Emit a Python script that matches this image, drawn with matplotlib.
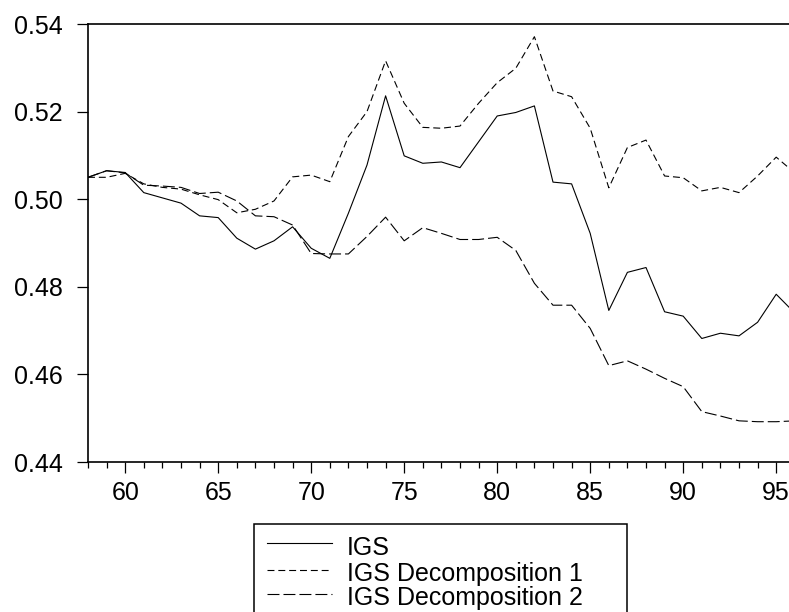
import matplotlib
matplotlib.use("Agg")
import matplotlib.pyplot as plt
from matplotlib.lines import Line2D
from matplotlib.patches import Rectangle
from matplotlib.ticker import MultipleLocator, FixedLocator

plt.rcParams['font.family'] = ['Liberation Sans', 'DejaVu Sans']
plt.rcParams['lines.scale_dashes'] = False

years = list(range(58, 97))
igs = [0.5050, 0.5065, 0.5061, 0.5015, 0.5003, 0.4991, 0.4962, 0.4958, 0.4911, 0.4886,
       0.4905, 0.4937, 0.4888, 0.4865, 0.4968, 0.5078, 0.5236, 0.5099, 0.5082, 0.5085,
       0.5072, 0.5131, 0.5190, 0.5198, 0.5213, 0.5039, 0.5035, 0.4922, 0.4746, 0.4833,
       0.4844, 0.4743, 0.4733, 0.4682, 0.4694, 0.4688, 0.4719, 0.4783, 0.4740]
dec1 = [0.5050, 0.5050, 0.5059, 0.5035, 0.5027, 0.5023, 0.5010, 0.4999, 0.4969, 0.4977,
        0.4996, 0.5051, 0.5055, 0.5040, 0.5143, 0.5200, 0.5316, 0.5219, 0.5164, 0.5162,
        0.5167, 0.5219, 0.5266, 0.5299, 0.5371, 0.5247, 0.5234, 0.5162, 0.5026, 0.5118,
        0.5135, 0.5053, 0.5049, 0.5019, 0.5027, 0.5015, 0.5053, 0.5096, 0.5060]
dec2 = [0.5050, 0.5065, 0.5060, 0.5032, 0.5030, 0.5027, 0.5013, 0.5016, 0.4996, 0.4962,
        0.4960, 0.4941, 0.4876, 0.4875, 0.4875, 0.4915, 0.4959, 0.4905, 0.4935, 0.4922,
        0.4908, 0.4908, 0.4913, 0.4883, 0.4808, 0.4758, 0.4758, 0.4705, 0.4620, 0.4631,
        0.4612, 0.4591, 0.4572, 0.4515, 0.4505, 0.4494, 0.4492, 0.4492, 0.4494]
labels = ["IGS", "IGS Decomposition 1", "IGS Decomposition 2"]
yticks = [0.44, 0.46, 0.48, 0.50, 0.52, 0.54]
ytick_labels = ["0.44", "0.46", "0.48", "0.50", "0.52", "0.54"]
xticks = [60, 65, 70, 75, 80, 85, 90, 95]

W, H = 789, 612
fig = plt.figure(figsize=(W / 100, H / 100), dpi=100)
ax_left, ax_right, ax_top, ax_bottom = 88, 794.8, 24, 462
ax = fig.add_axes([ax_left / W, 1 - ax_bottom / H, (ax_right - ax_left) / W, (ax_bottom - ax_top) / H])

styles = ['-', (0, (5.0, 2.8)), (0, (8.6, 2.9))]
for series, lab, st in zip([igs, dec1, dec2], labels, styles):
    ax.plot(years, series, color='black', linewidth=0.8, label=lab, linestyle=st)

ax.set_xlim(58, 96)
ax.set_ylim(0.44, 0.54)
ax.xaxis.set_major_locator(FixedLocator(xticks))
ax.xaxis.set_minor_locator(MultipleLocator(1))
ax.set_xticklabels([str(x) for x in xticks])
ax.yaxis.set_major_locator(FixedLocator(yticks))
ax.set_yticklabels(ytick_labels)
ax.tick_params(axis='both', which='major', direction='out', labelsize=18, width=0.9, color='black')
ax.tick_params(axis='x', which='major', length=8, pad=6)
ax.tick_params(axis='x', which='minor', length=4.5, width=0.9)
ax.tick_params(axis='y', which='major', length=8, pad=10)
for side in ['left', 'bottom', 'top', 'right']:
    ax.spines[side].set_linewidth(1.2)

# legend box (manual, matches reference layout)
fig.add_artist(Rectangle((254 / W, 1 - 640 / H), (627 - 254) / W, (640 - 524) / H,
                         transform=fig.transFigure, fill=False, edgecolor='black', linewidth=1.1))
line_ys = [542.5, 569.5, 593.5]
text_ys = [555, 581, 605]
for st, lab, ly, ty in zip(styles, labels, line_ys, text_ys):
    fig.add_artist(Line2D([267 / W, 332 / W], [1 - ly / H, 1 - ly / H], transform=fig.transFigure,
                          color='black', linewidth=0.8, linestyle=st))
    fig.text(347 / W, 1 - ty / H, lab, fontsize=18, va='baseline', ha='left')

fig.savefig("out.png", dpi=100)
